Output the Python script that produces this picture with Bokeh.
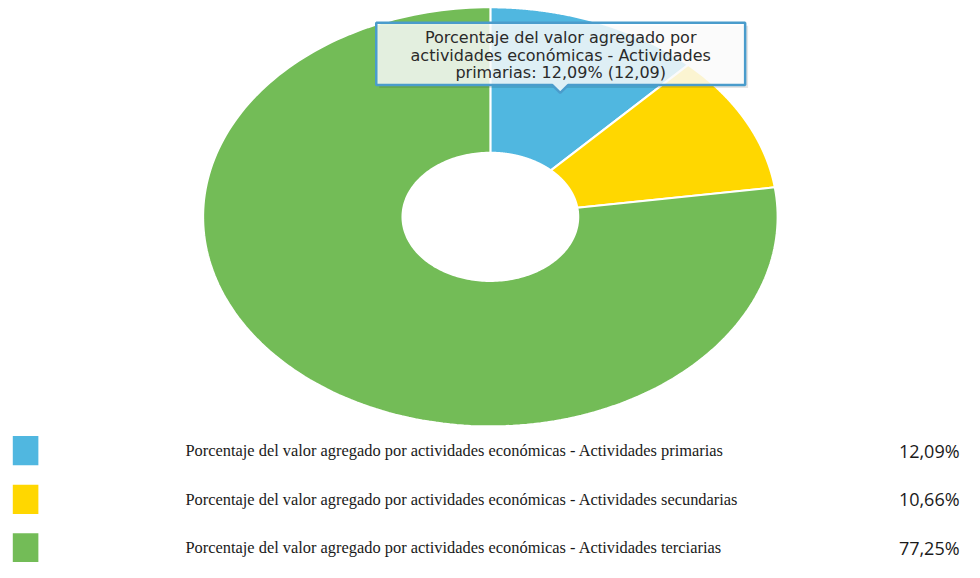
import numpy as np
from bokeh.plotting import figure
from bokeh.models import Range1d
from bokeh.core.properties import value
from bokeh.embed import file_html
from bokeh.resources import INLINE

# ---- data ----
categories = [
    "Porcentaje del valor agregado por actividades económicas - Actividades primarias",
    "Porcentaje del valor agregado por actividades económicas - Actividades secundarias",
    "Porcentaje del valor agregado por actividades económicas - Actividades terciarias",
]
values = [12.09, 10.66, 77.25]
colors = ["#50b7e0", "#ffd700", "#73bc57"]
pct_labels = ["12,09%", "10,66%", "77,25%"]
tooltip_lines = [
    "Porcentaje del valor agregado por",
    "actividades económicas - Actividades",
    "primarias: 12,09% (12,09)",
]

W, H = 964, 562
p = figure(width=W, height=H, output_backend="svg", toolbar_location=None,
           x_range=Range1d(0, 980), y_range=Range1d(578, 0),
           min_border=0, outline_line_color=None)
p.axis.visible = False
p.grid.visible = False
p.background_fill_color = "white"
p.border_fill_color = "white"

# ---- donut (elliptical) ----
cx, cy, rx, ry, inner = 498.0, 222.5, 292.0, 215.5, 0.306
total = sum(values)
cum = np.concatenate([[0], np.cumsum(values)]) / total * 2 * np.pi
xs, ys = [], []
for i in range(len(values)):
    t = np.linspace(cum[i], cum[i + 1], 200)
    ox = cx + rx * np.sin(t)
    oy = cy - ry * np.cos(t)
    ix = cx + inner * rx * np.sin(t[::-1])
    iy = cy - inner * ry * np.cos(t[::-1])
    xs.append(list(np.concatenate([ox, ix])))
    ys.append(list(np.concatenate([oy, iy])))
p.patches(xs=xs, ys=ys, fill_color=colors, line_color="white", line_width=2)

# ---- legend ----
rows_y = [463, 513, 563]
p.rect(x=[25.5] * 3, y=rows_y, width=26, height=30, fill_color=colors,
       line_color=None)
p.text(x=[188] * 3, y=rows_y, text=categories, text_font=value("Liberation Serif"),
       text_font_size="16.4px", text_baseline="middle", text_align="left",
       text_color="#1a1a1a")
p.text(x=[975] * 3, y=rows_y, text=pct_labels, text_font=value("Open Sans"),
       text_font_size="18px", text_baseline="middle", text_align="right",
       text_color="#1a1a1a")

# ---- tooltip ----
bx0, bx1, by0, by1 = 382, 757, 23, 87
tipx = 569
p.quad(left=[bx0 + 3], right=[bx1 + 3], top=[by0 + 3], bottom=[by1 + 3],
       fill_color="#000000", fill_alpha=0.10, line_color=None)
p.patch(x=[bx0, bx1, bx1, tipx + 8, tipx, tipx - 8, bx0],
        y=[by0, by0, by1, by1, by1 + 8, by1, by1],
        fill_color="white", fill_alpha=0.82, line_color="#4a9ccc", line_width=2.5)
p.text(x=[569.5] * 3, y=[38.5, 56.5, 74], text=tooltip_lines,
       text_font=value("DejaVu Sans"), text_font_size="16px",
       text_baseline="middle", text_align="center", text_color="#2a2a2a")

open("out.html", "w").write(file_html(p, INLINE))
